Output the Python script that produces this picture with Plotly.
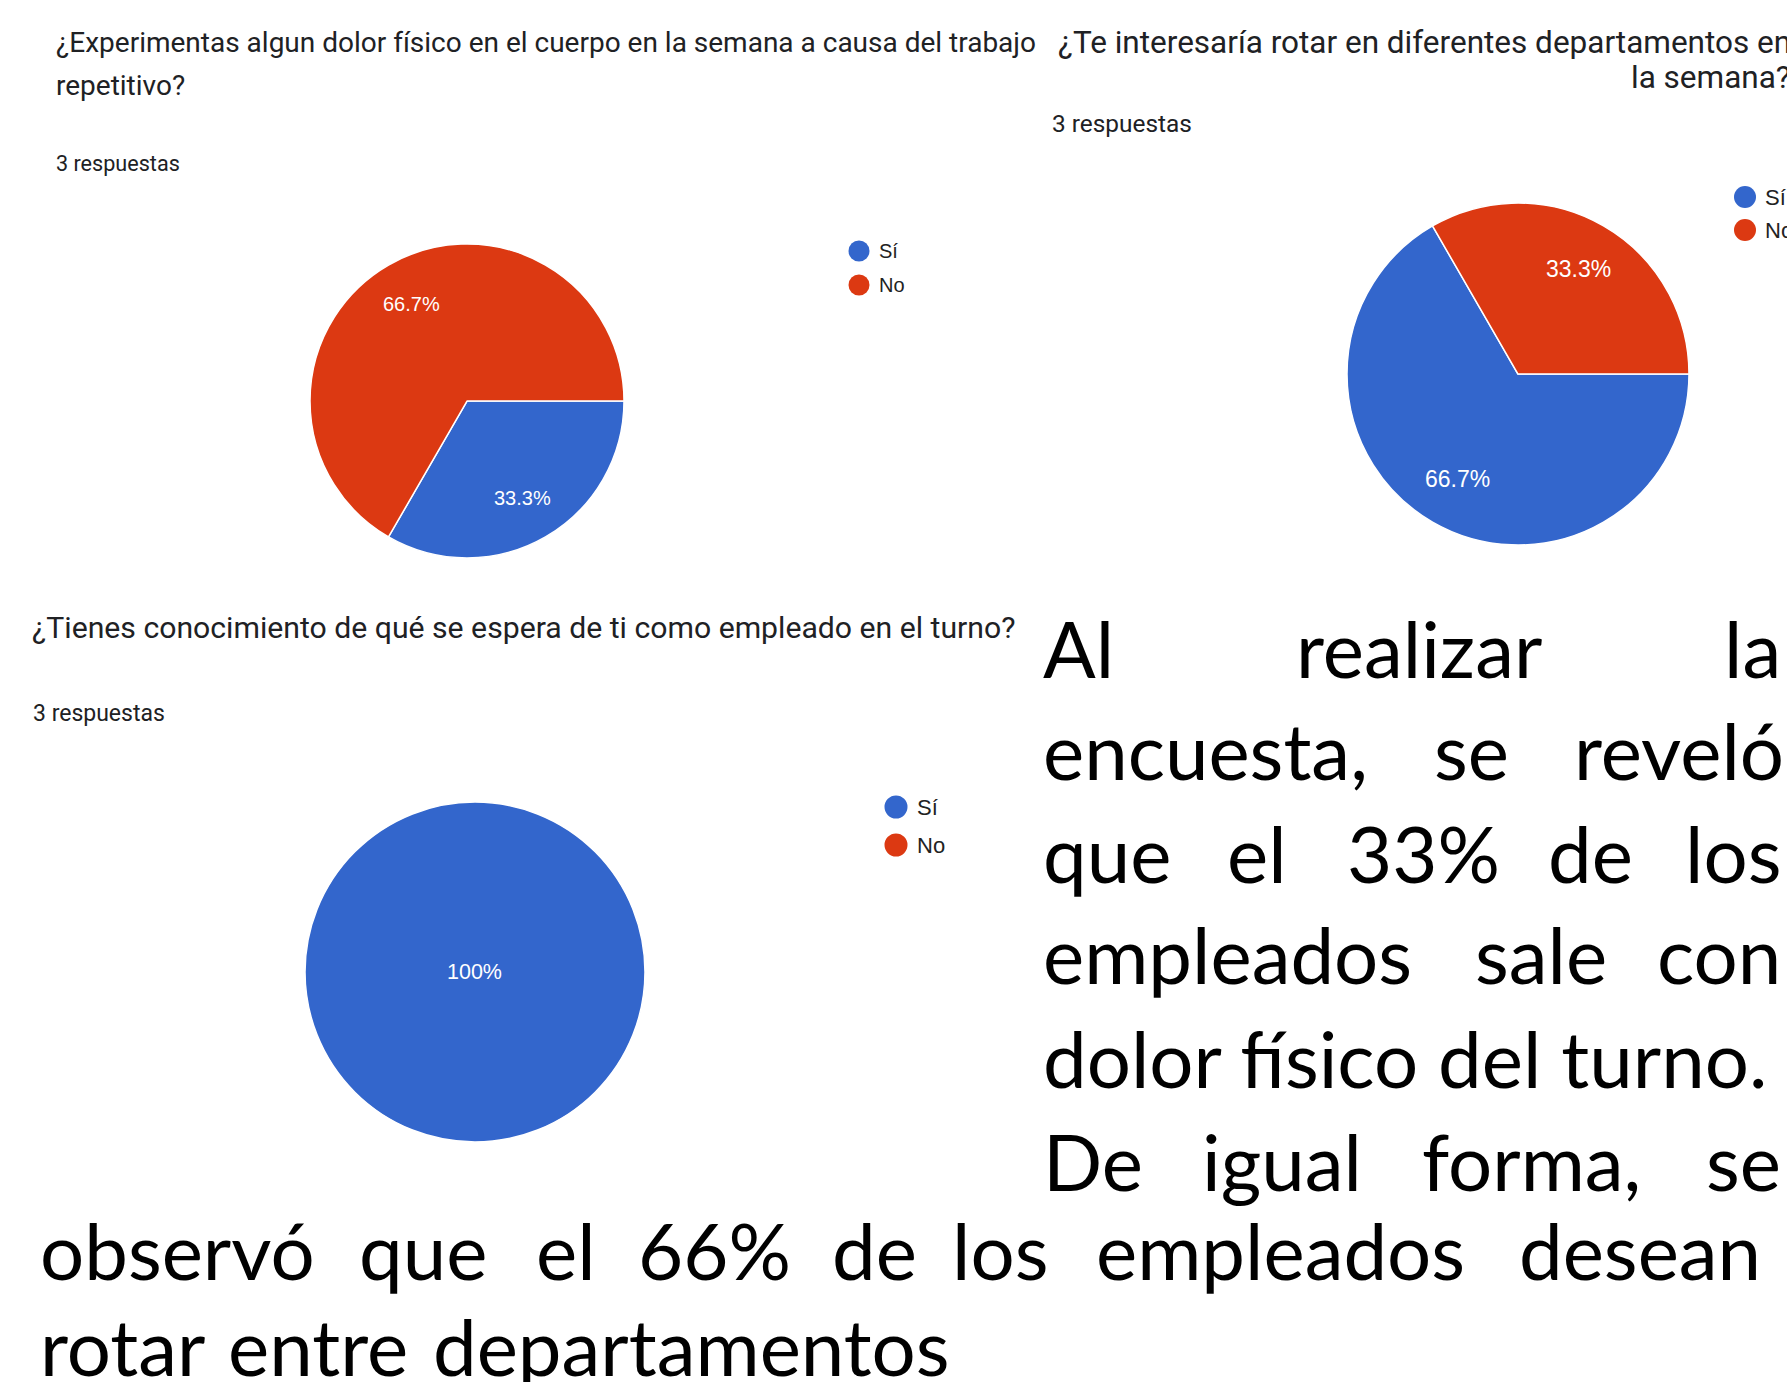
import math
import plotly.graph_objects as go

# ---------------- data ----------------
CATEGORIES = ["Sí", "No"]
COLORS = ["#3366CC", "#DC3912"]

Q1_TITLE = ["¿Experimentas algun dolor físico en el cuerpo en la semana a causa del trabajo", "repetitivo?"]
Q1_VALUES = [1, 2]

Q2_TITLE = ["¿Te interesaría rotar en diferentes departamentos en", "la semana?"]
Q2_VALUES = [2, 1]

Q3_TITLE = ["¿Tienes conocimiento de qué se espera de ti como empleado en el turno?"]
Q3_VALUES = [3, 0]

RESPONSES_TEXT = "3 respuestas"

PARAGRAPH_LINES = [
    "Al realizar la",
    "encuesta, se reveló",
    "que el 33% de los",
    "empleados sale con",
    "dolor físico del turno.",
    "De igual forma, se",
    "observó que el 66% de los empleados desean",
    "rotar entre departamentos",
]

# ---------------- layout helpers (pixels) ----------------
W, H = 1787, 1382


def px(x):
    return x / W


def py(y):
    return 1 - y / H


TITLE_FONT = "Roboto, Arial, sans-serif"
LABEL_FONT = "Arial, 'Liberation Sans', sans-serif"
PARA_FONT = "Lato, 'Open Sans', sans-serif"
TITLE_COLOR = "#202124"

# per-chart layout: pie center/radius, title lines positions, legend
CHARTS = [
    dict(values=Q1_VALUES, title=Q1_TITLE, cx=467, cy=401, r=157,
         title_pos=[(54, 43), (54, 85)], title_size=28,
         resp_pos=(54, 164), resp_size=21.6,
         leg_x=859, leg_y=[251, 285], leg_r=10.5, leg_tx=877, leg_size=20,
         lab_size=20),
    dict(values=Q2_VALUES, title=Q2_TITLE, cx=1518, cy=374, r=171,
         title_pos=[(1056, 42), (1629, 77)], title_size=31.5,
         resp_pos=(1050, 124), resp_size=24.4,
         leg_x=1745, leg_y=[197, 230], leg_r=11, leg_tx=1763, leg_size=22,
         lab_size=23),
    dict(values=Q3_VALUES, title=Q3_TITLE, cx=475, cy=972, r=170,
         title_pos=[(30, 628)], title_size=30.2,
         resp_pos=(31, 713), resp_size=23,
         leg_x=896, leg_y=[807, 845], leg_r=11.5, leg_tx=915, leg_size=22,
         lab_size=21.5),
]

fig = go.Figure()
annotations = []
shapes = []

for ch in CHARTS:
    cx, cy, r = ch["cx"], ch["cy"], ch["r"]
    widths = [1.5 if v > 0 else 0 for v in ch["values"]]
    fig.add_trace(go.Pie(
        labels=CATEGORIES,
        values=ch["values"],
        marker=dict(colors=COLORS, line=dict(color="white", width=widths)),
        sort=False,
        direction="clockwise",
        rotation=90,
        textinfo="none",
        showlegend=False,
        domain=dict(x=[px(cx - r), px(cx + r)], y=[py(cy + r), py(cy - r)]),
    ))
    # slice labels at ~0.71 r along the bisector (Google Forms style)
    total = sum(ch["values"])
    start = 0.0
    for v in ch["values"]:
        if v <= 0:
            continue
        frac = v / total
        pct = frac * 100
        txt = f"{pct:.1f}%"
        if txt.endswith(".0%"):
            txt = txt[:-3] + "%"
        if frac >= 0.999:
            lx, ly = cx, cy
        else:
            mid = math.radians((start + frac / 2) * 360)
            lx = cx + 0.71 * r * math.cos(mid)
            ly = cy + 0.71 * r * math.sin(mid)
        start += frac
        annotations.append(dict(
            x=px(lx), y=py(ly), xref="paper", yref="paper",
            text=txt, showarrow=False, xanchor="center", yanchor="middle",
            font=dict(family=LABEL_FONT, size=ch["lab_size"], color="white"),
        ))
    # title lines
    for line, (tx, ty) in zip(ch["title"], ch["title_pos"]):
        annotations.append(dict(
            x=px(tx), y=py(ty), xref="paper", yref="paper", text=line,
            showarrow=False, xanchor="left", yanchor="middle",
            font=dict(family=TITLE_FONT, size=ch["title_size"], color=TITLE_COLOR),
        ))
    rx, ry = ch["resp_pos"]
    annotations.append(dict(
        x=px(rx), y=py(ry), xref="paper", yref="paper", text=RESPONSES_TEXT,
        showarrow=False, xanchor="left", yanchor="middle",
        font=dict(family=TITLE_FONT, size=ch["resp_size"], color=TITLE_COLOR),
    ))
    # legend
    for cat, col, ly in zip(CATEGORIES, COLORS, ch["leg_y"]):
        lr = ch["leg_r"]
        shapes.append(dict(
            type="circle", xref="paper", yref="paper",
            x0=px(ch["leg_x"] - lr), x1=px(ch["leg_x"] + lr),
            y0=py(ly + lr), y1=py(ly - lr),
            fillcolor=col, line=dict(width=0),
        ))
        annotations.append(dict(
            x=px(ch["leg_tx"]), y=py(ly), xref="paper", yref="paper", text=cat,
            showarrow=False, xanchor="left", yanchor="middle",
            font=dict(family=LABEL_FONT, size=ch["leg_size"], color="#222222"),
        ))

# ---------------- justified paragraph ----------------
PARA_SIZE = 78
PARA_BASELINES = [678, 780, 883, 984, 1088, 1191, 1280, 1376]
# left edges of words (last word right-aligned when RIGHT_EDGE is given);
# a single left edge means the line is set with natural spacing
WORD_LEFTS = [
    [1043, 1296],
    [1043, 1434],
    [1043, 1227, 1347, 1548],
    [1043, 1475],
    [1043],
    [1043, 1202, 1422],
    [40, 359, 536, 638, 832, 952, 1096],
    [40, 228, 433],
]
RIGHT_EDGE = [1781, 1784, 1781, 1781, None, 1781, 1761, None]

for line, lefts, redge, base in zip(PARAGRAPH_LINES, WORD_LEFTS, RIGHT_EDGE, PARA_BASELINES):
    words = line.split(" ") if len(lefts) > 1 else [line]
    ymid = base - 0.387 * PARA_SIZE
    for i, w in enumerate(words):
        if redge is not None and i == len(words) - 1:
            xa, anchor = redge, "right"
        else:
            xa, anchor = lefts[i], "left"
        annotations.append(dict(
            x=px(xa), y=py(ymid), xref="paper", yref="paper", text=w,
            showarrow=False, xanchor=anchor, yanchor="middle",
            borderpad=0, borderwidth=0,
            font=dict(family=PARA_FONT, size=PARA_SIZE, color="#000000"),
        ))

fig.update_layout(
    width=W, height=H,
    margin=dict(l=0, r=0, t=0, b=0),
    paper_bgcolor="white", plot_bgcolor="white",
    annotations=annotations,
    shapes=shapes,
    showlegend=False,
)

fig.write_html(
    "out.html",
    config={"displayModeBar": False},
    post_script="document.body.style.margin='0px';document.body.style.overflow='hidden';",
)
